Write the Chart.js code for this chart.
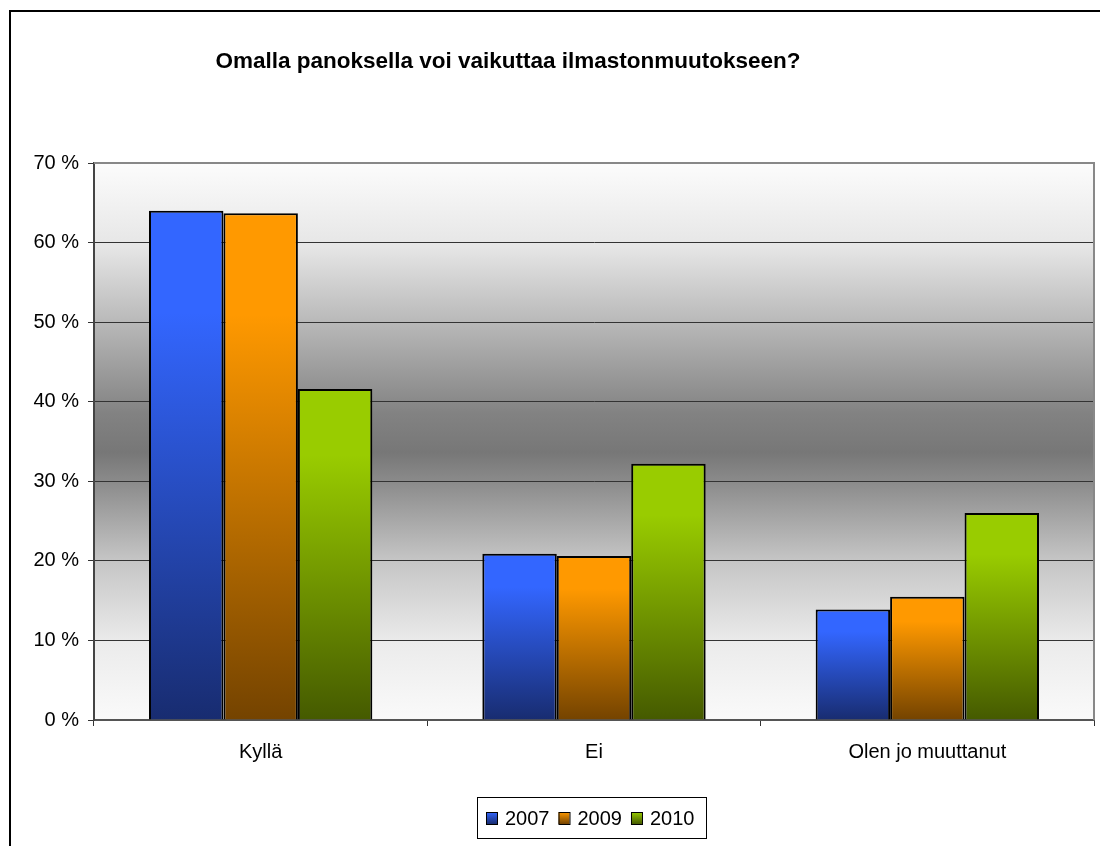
<!DOCTYPE html>
<html>
<head>
<meta charset="utf-8">
<script src="https://cdn.jsdelivr.net/npm/chart.js@4/dist/chart.umd.min.js"></script>
<style>
  body { margin: 0; background: #fff; }
  #wrap { width: 1100px; height: 846px; }
</style>
</head>
<body>
<div id="wrap"><canvas id="chart" width="1100" height="846"></canvas></div>
<script>
// Data
const title = "Omalla panoksella voi vaikuttaa ilmastonmuutokseen?";
const categories = ["Kyllä", "Ei", "Olen jo muuttanut"];
const years = ["2007", "2009", "2010"];
const values2007 = [64.0, 20.9, 13.9];
const values2009 = [63.7, 20.6, 15.5];
const values2010 = [41.6, 32.2, 26.0];
const yTicks = [0, 10, 20, 30, 40, 50, 60, 70];

// colour pairs: top of bar -> bottom of bar
const barColors = [
  ["#3366ff", "#182c70"],
  ["#ff9900", "#744300"],
  ["#99cc00", "#455a00"]
];

const FONT = "'Liberation Sans', Arial, sans-serif";

// each bar gets its own top-to-bottom gradient
function barGradient(ctx, pair) {
  const chart = ctx.chart;
  if (!chart.chartArea || ctx.type !== 'data') return pair[0];
  const y = chart.scales.y;
  const top = y.getPixelForValue(ctx.parsed.y);
  const bottom = y.getPixelForValue(0);
  const g = chart.ctx.createLinearGradient(0, top, 0, bottom);
  g.addColorStop(0, pair[0]);
  g.addColorStop(0.2, pair[0]);
  g.addColorStop(1, pair[1]);
  return g;
}

// frame, plot background, title and legend
const decor = {
  id: 'decor',
  beforeDraw(chart) {
    const c = chart.ctx;
    const a = chart.chartArea;
    c.save();
    c.strokeStyle = '#000';
    c.lineWidth = 2;
    c.strokeRect(10, 11, 1200, 1000);

    const g = c.createLinearGradient(0, a.top, 0, a.bottom);
    g.addColorStop(0, '#fcfcfc');
    g.addColorStop(0.15, '#e6e6e6');
    g.addColorStop(0.3, '#b4b4b4');
    g.addColorStop(0.45, '#828282');
    g.addColorStop(0.52, '#777777');
    g.addColorStop(0.57, '#8a8a8a');
    g.addColorStop(0.71, '#c4c4c4');
    g.addColorStop(0.86, '#ebebeb');
    g.addColorStop(1, '#fafafa');
    c.fillStyle = g;
    c.fillRect(a.left, a.top, a.right - a.left, a.bottom - a.top);
    c.restore();
  },
  afterDatasetsDraw(chart) {
    const c = chart.ctx;
    const a = chart.chartArea;
    c.save();
    // gray border on top and right of the plot
    c.strokeStyle = '#888';
    c.lineWidth = 2;
    c.beginPath();
    c.moveTo(a.left, a.top);
    c.lineTo(a.right, a.top);
    c.lineTo(a.right, a.bottom);
    c.stroke();

    // title
    c.fillStyle = '#000';
    c.font = 'bold 22.5px ' + FONT;
    c.textAlign = 'center';
    c.textBaseline = 'middle';
    c.fillText(title, 508, 62);

    // legend
    c.strokeStyle = '#000';
    c.lineWidth = 1;
    c.fillStyle = '#fff';
    c.fillRect(477.5, 797.5, 229, 41);
    c.strokeRect(477.5, 797.5, 229, 41);
    c.font = '20px ' + FONT;
    c.textAlign = 'left';
    let x = 486;
    chart.data.datasets.forEach((ds, i) => {
      const mg = c.createLinearGradient(0, 812, 0, 824);
      mg.addColorStop(0, barColors[i][0]);
      mg.addColorStop(1, barColors[i][1]);
      c.fillStyle = mg;
      c.fillRect(x, 812, 11, 12);
      c.strokeRect(x + 0.5, 812.5, 11, 12);
      c.fillStyle = '#000';
      c.fillText(ds.label, x + 19, 819);
      x += 19 + c.measureText(ds.label).width + 9;
    });
    c.restore();
  }
};

const datasets = [values2007, values2009, values2010].map((vals, i) => ({
  label: years[i],
  data: vals,
  backgroundColor: ctx => barGradient(ctx, barColors[i]),
  borderColor: '#000',
  borderWidth: 2,
  categoryPercentage: 0.67,
  barPercentage: 1.0
}));

new Chart(document.getElementById('chart'), {
  type: 'bar',
  data: { labels: categories, datasets: datasets },
  options: {
    responsive: false,
    animation: false,
    layout: { padding: { left: 0, top: 163, right: 6, bottom: 66 } },
    plugins: {
      legend: { display: false },
      title: { display: false },
      tooltip: { enabled: false }
    },
    scales: {
      x: {
        afterFit(scale) { scale.height = 60; },
        grid: {
          offset: true,
          drawOnChartArea: false,
          drawTicks: true,
          tickLength: 6,
          color: '#333',
          tickColor: '#333'
        },
        border: { color: '#555', width: 2 },
        ticks: { color: '#000', padding: 14, font: { family: FONT, size: 20 } }
      },
      y: {
        min: 0,
        max: 70,
        afterFit(scale) { scale.width = 94; },
        afterBuildTicks(scale) { scale.ticks = yTicks.map(v => ({ value: v })); },
        grid: { color: '#333', lineWidth: 1, tickLength: 6, tickColor: '#333' },
        border: { color: '#444', width: 2 },
        ticks: {
          color: '#000',
          padding: 9,
          font: { family: FONT, size: 20 },
          callback: v => v + ' %'
        }
      }
    }
  },
  plugins: [decor]
});
</script>
</body>
</html>
